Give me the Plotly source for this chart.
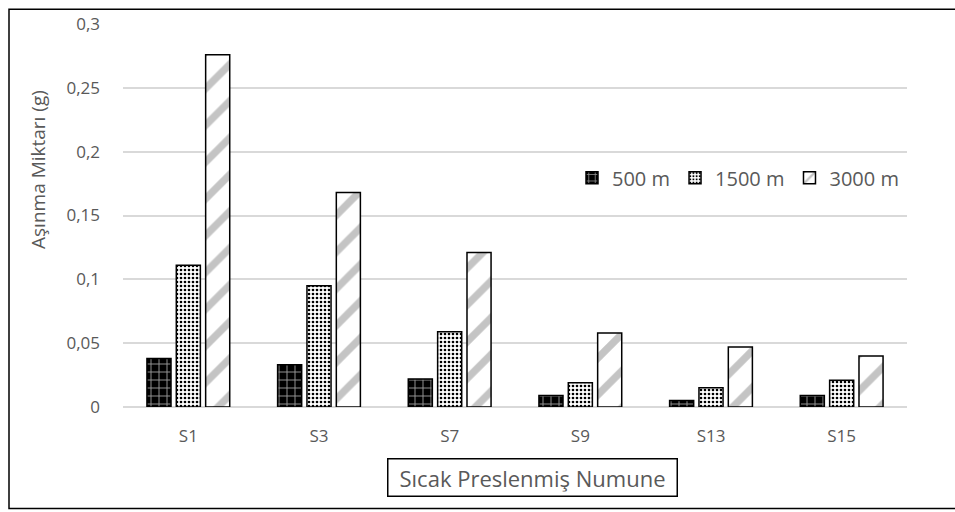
import plotly.graph_objects as go

# Wear amount (g) per hot-pressed sample at three sliding distances
samples = ["S1", "S3", "S7", "S9", "S13", "S15"]
wear_500 = [0.038, 0.033, 0.022, 0.009, 0.005, 0.009]
wear_1500 = [0.111, 0.095, 0.059, 0.019, 0.015, 0.021]
wear_3000 = [0.276, 0.168, 0.121, 0.058, 0.047, 0.040]
series_names = ["500 m", "1500 m", "3000 m"]

FONT = "Open Sans"
TEXT = "#595959"

# Plot area in pixels (955 x 512 canvas)
W, H = 955, 512
L, R, T, B = 123, 48, 16, 105
pw, ph = W - L - R, H - T - B


def px(x):
    return (x - L) / pw


def py(y):
    return (H - B - y) / ph


fig = go.Figure()
fig.add_bar(
    x=samples, y=wear_500, name=series_names[0],
    marker=dict(
        color="#000000",
        line=dict(color="#000000", width=1.5),
        pattern=dict(shape="+", bgcolor="#000000", fgcolor="#9a9a9a",
                     size=8, solidity=0.22, fillmode="replace"),
    ),
)
fig.add_bar(
    x=samples, y=wear_1500, name=series_names[1],
    marker=dict(
        color="#ffffff",
        line=dict(color="#000000", width=1.5),
        pattern=dict(shape=".", bgcolor="#ffffff", fgcolor="#000000",
                     size=4, solidity=0.35, fillmode="replace"),
    ),
)
fig.add_bar(
    x=samples, y=wear_3000, name=series_names[2],
    marker=dict(
        color="#ffffff",
        line=dict(color="#000000", width=1.5),
        pattern=dict(shape="/", bgcolor="#ffffff", fgcolor="#c4c4c4",
                     size=26, solidity=0.28, fillmode="replace"),
    ),
)

fig.update_layout(
    width=W, height=H,
    margin=dict(l=L, r=R, t=T, b=B, pad=0),
    paper_bgcolor="#ffffff", plot_bgcolor="#ffffff",
    barmode="group", bargap=0.326, bargroupgap=0.18,
    separators=", ",
    font=dict(family=FONT, color=TEXT, size=17),
    showlegend=True,
    legend=dict(
        orientation="h", x=px(572), y=py(173), xanchor="left", yanchor="middle",
        bgcolor="rgba(0,0,0,0)", font=dict(size=20, color=TEXT),
        itemwidth=30, traceorder="normal",
    ),
    xaxis=dict(
        showgrid=False, showline=False, ticks="", ticklabelstandoff=17,
        tickfont=dict(size=17, color=TEXT),
    ),
    yaxis=dict(
        range=[0, 0.3], dtick=0.05, showgrid=True, gridcolor="#d9d9d9",
        gridwidth=1.5, zeroline=True, zerolinecolor="#d9d9d9", zerolinewidth=1.5,
        showline=False, ticks="", ticklabelstandoff=22,
        tickfont=dict(size=17, color=TEXT),
    ),
    annotations=[
        dict(text="Aşınma Miktarı (g)", textangle=-90, showarrow=False,
             xref="paper", yref="paper", x=px(38), y=py(165),
             xanchor="center", yanchor="middle",
             font=dict(size=19, color=TEXT)),
        dict(text="Sıcak Preslenmiş Numune", showarrow=False,
             xref="paper", yref="paper", x=px(532), y=py(479),
             xanchor="center", yanchor="middle",
             font=dict(size=22, color=TEXT),
             width=280, height=28,
             bordercolor="#000000", borderwidth=1.5, borderpad=4,
             bgcolor="#ffffff"),
    ],
    shapes=[
        dict(type="rect", xref="paper", yref="paper",
             x0=px(9), x1=px(962), y0=py(510.5), y1=py(1),
             line=dict(color="#000000", width=1.5), fillcolor="rgba(0,0,0,0)",
             layer="below"),
    ],
)

fig.write_html("out.html")
